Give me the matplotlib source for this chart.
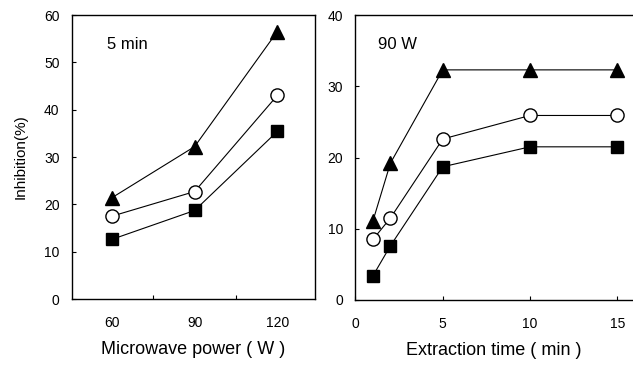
import matplotlib
matplotlib.use("Agg")
import matplotlib.pyplot as plt

# ---------------------------------------------------------
# Data
# ---------------------------------------------------------
power = [60, 90, 120]
power_tri = [21.4, 32.2, 56.5]
power_circ = [17.5, 22.7, 43.0]
power_sq = [12.6, 18.7, 35.4]

time = [1, 2, 5, 10, 15]
time_tri = [11.1, 19.2, 32.3, 32.3, 32.3]
time_circ = [8.5, 11.5, 22.6, 25.9, 25.9]
time_sq = [3.4, 7.6, 18.7, 21.5, 21.5]

plt.rcParams["font.family"] = ["Liberation Sans", "DejaVu Sans"]

fig = plt.figure(figsize=(6.33, 3.69), dpi=100)
ax1 = fig.add_axes([0.1137, 0.1897, 0.384, 0.7696])
ax2 = fig.add_axes([0.5616, 0.187, 0.4384, 0.7723])


def draw(ax, x, tri, circ, sq):
    ax.plot(x, tri, color="black", lw=0.8, marker="^", ms=10, mfc="black", mec="black")
    ax.plot(x, circ, color="black", lw=0.8, marker="o", ms=9.5, mfc="white", mec="black", mew=1.0)
    ax.plot(x, sq, color="black", lw=0.8, marker="s", ms=9, mfc="black", mec="black")
    for s in ax.spines.values():
        s.set_linewidth(1.0)
    ax.tick_params(direction="in", length=3, labelsize=10, width=0.8)
    ax.tick_params(axis="y", pad=9)
    ax.tick_params(axis="x", pad=12.5)


# Left panel: microwave power
draw(ax1, power, power_tri, power_circ, power_sq)
ax1.set_xlim(45.5, 133.7)
ax1.set_ylim(0, 60)
ax1.set_xticks(power)
ax1.set_xticks([75, 105], minor=True)
ax1.tick_params(axis="x", which="major", length=0)
ax1.tick_params(axis="x", which="minor", direction="in", length=3, width=0.8)
ax1.set_yticks(range(0, 61, 10))
ax1.set_xlabel("Microwave power ( W )", fontsize=13, labelpad=8)
ax1.set_ylabel("Inhibition(%)", fontsize=11, labelpad=12)
ax1.text(0.145, 0.895, "5 min", transform=ax1.transAxes, fontsize=12, va="center")

# Right panel: extraction time
draw(ax2, time, time_tri, time_circ, time_sq)
ax2.set_xlim(0, 15.9)
ax2.set_ylim(0, 40)
ax2.set_xticks([0, 5, 10, 15])
ax2.set_yticks(range(0, 41, 10))
ax2.spines["right"].set_visible(False)
ax2.set_xlabel("Extraction time ( min )", fontsize=13, labelpad=8)
ax2.text(0.08, 0.895, "90 W", transform=ax2.transAxes, fontsize=12, va="center")

for ax in (ax1, ax2):
    for m in ax.lines:
        m.set_clip_on(False)

fig.savefig("out.png", dpi=100)
